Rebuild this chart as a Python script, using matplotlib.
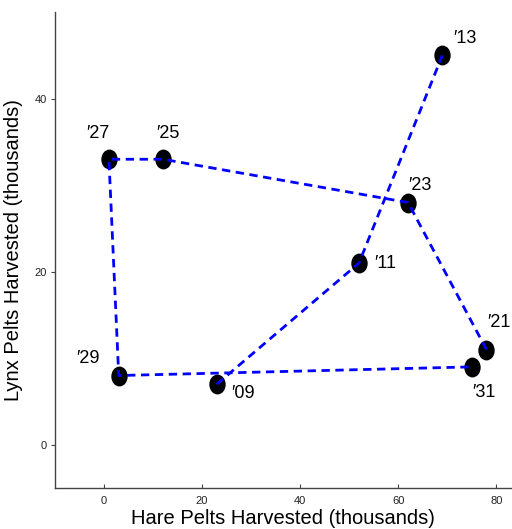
#!/usr/bin/env python3

import matplotlib
import matplotlib.pyplot as plt
from matplotlib.path import Path
from matplotlib.transforms import Affine2D
matplotlib.use('Agg')

plt.rcParams['font.family'] = ['Liberation Sans', 'DejaVu Sans']

# hare / lynx pelts (thousands), two stretches of years
years_a = ['09', '11', '13']
hare_a = [23, 52, 69]
lynx_a = [7, 21, 45]

years_b = ['21', '23', '25', '27', '29', '31']
hare_b = [78, 62, 12, 1, 3, 75]
lynx_b = [11, 28, 33, 33, 8, 9]

# label offsets in pixels (dx, dy) for each year
offsets = {
    '09': (26, -9), '11': (26, 0), '13': (23, 17),
    '21': (12, 27), '23': (12, 17), '25': (5, 26),
    '27': (-11, 26), '29': (-31, 17), '31': (12, -26),
}

oval = Path.unit_circle().transformed(Affine2D().scale(0.81, 1.0))

fig = plt.figure(figsize=(5.12, 5.29), dpi=100)
ax = fig.add_axes([0.1074, 0.0775, 0.8906, 0.8995])

for hx, ly in [(hare_a, lynx_a), (hare_b, lynx_b)]:
    ax.plot(hx, ly, ls='none', marker=oval, ms=13.3, color='black', zorder=2)
    ln, = ax.plot(hx, ly, color='#0000ff', lw=2.0, zorder=3)
    ln.set_dashes([3, 2])

for yrs, hx, ly in [(years_a, hare_a, lynx_a), (years_b, hare_b, lynx_b)]:
    for yr, x, y in zip(yrs, hx, ly):
        dx, dy = offsets[yr]
        ax.annotate('\u2032' + yr, (x, y), xytext=(dx * 0.72, dy * 0.72),
                    textcoords='offset points', ha='center', va='center',
                    fontsize=13, color='black')

ax.set_xlim(-10, 83)
ax.set_ylim(-5, 50)
ax.set_xticks([0, 20, 40, 60, 80])
ax.set_yticks([0, 20, 40])
ax.spines['top'].set_visible(False)
ax.spines['right'].set_visible(False)
for s in ['left', 'bottom']:
    ax.spines[s].set_color('#444444')
    ax.spines[s].set_linewidth(1.0)
ax.tick_params(axis='x', direction='in', length=3, labelsize=8, colors='#444444',
               labelcolor='#222222', pad=6)
ax.tick_params(axis='y', direction='out', length=3, labelsize=8, colors='#444444',
               labelcolor='#222222', pad=3)

ax.set_xlabel('Hare Pelts Harvested (thousands)', fontsize=14.5, labelpad=2)
ax.set_ylabel('Lynx Pelts Harvested (thousands)', fontsize=14.5, labelpad=8)

plt.savefig('out.png', dpi=100)
plt.close()
